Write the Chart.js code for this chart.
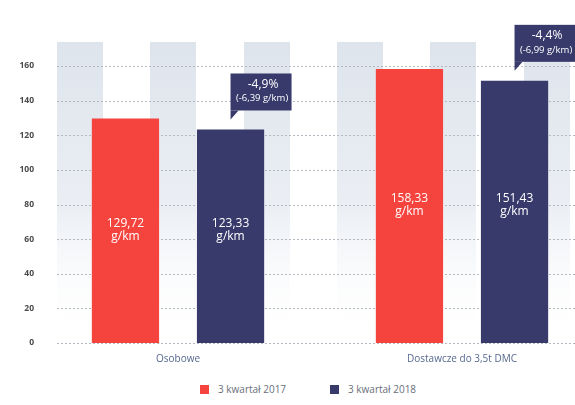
<!DOCTYPE html>
<html lang="pl">
<head>
<meta charset="UTF-8">
<title>Emisja CO2</title>
<script src="https://cdn.jsdelivr.net/npm/chart.js"></script>
<style>
    html, body {
        margin: 0;
        padding: 0;
        background: #fff;
        overflow: hidden;
        font-family: 'Open Sans', sans-serif;
    }
    .wrap {
        position: relative;
        width: 606px;
        height: 375px;
    }
    /* legend under the chart */
    .legend {
        position: absolute;
        top: 382px;
        left: 0;
        width: 575px;
        height: 14px;
    }
    .legend .item {
        position: absolute;
        top: 0;
        font-size: 10px;
        line-height: 14px;
        color: #6a6f7c;
        white-space: nowrap;
    }
    .legend .swatch {
        display: inline-block;
        width: 9px;
        height: 9px;
        margin-right: 9px;
        vertical-align: -1px;
    }
</style>
</head>
<body>
<div class="wrap">
    <canvas id="chart"></canvas>
</div>
<div class="legend" id="legend"></div>
<script>
// categories and series
const categories = ['Osobowe', 'Dostawcze do 3,5t DMC'];
const seriesNames = ['3 kwartał 2017', '3 kwartał 2018'];
const values2017 = [129.72, 158.33];
const values2018 = [123.33, 151.43];
const yTicks = [0, 20, 40, 60, 80, 100, 120, 140, 160];

// change callouts above the 2018 bars
const changePct = ['-4,9%', '-4,4%'];
const changeAbs = ['(-6,39 g/km)', '(-6,99 g/km)'];

const RED = '#f5433e';
const NAVY = '#373a6b';
const FONT = "'Open Sans', sans-serif";

const fmt = v => v.toFixed(2).replace('.', ',');

// light vertical bands + dotted grid behind the bars
const backdrop = {
    id: 'backdrop',
    beforeDatasetsDraw(chart) {
        const { ctx, chartArea, scales } = chart;
        ctx.save();
        const top = 42;
        const grad = ctx.createLinearGradient(0, top, 0, chartArea.bottom);
        grad.addColorStop(0, 'rgba(218,225,234,0.9)');
        grad.addColorStop(0.55, 'rgba(228,233,240,0.75)');
        grad.addColorStop(1, 'rgba(255,255,255,0)');
        ctx.fillStyle = grad;
        for (let x = 57; x < chart.width; x += 93.3) {
            ctx.fillRect(Math.round(x), top, 46, chartArea.bottom - top);
        }
        ctx.strokeStyle = '#b4b8c0';
        ctx.lineWidth = 1;
        ctx.setLineDash([2, 2]);
        yTicks.forEach(t => {
            const y = Math.round(scales.y.getPixelForValue(t)) + 0.5;
            ctx.beginPath();
            ctx.moveTo(57, y);
            ctx.lineTo(chart.width, y);
            ctx.stroke();
        });
        ctx.restore();
    }
};

// value text inside bars and change callouts
const barText = {
    id: 'barText',
    afterDatasetsDraw(chart) {
        const { ctx, scales } = chart;
        ctx.save();
        ctx.textAlign = 'center';
        ctx.textBaseline = 'middle';
        ctx.fillStyle = '#fff';
        ctx.font = '12px ' + FONT;
        chart.data.datasets.forEach((ds, di) => {
            chart.getDatasetMeta(di).data.forEach((bar, i) => {
                // both labels of a group sit at the middle of the taller bar
                const tall = Math.max(values2017[i], values2018[i]);
                const mid = scales.y.getPixelForValue(tall / 2);
                ctx.fillText(fmt(ds.data[i]), bar.x, mid - 7);
                ctx.fillText('g/km', bar.x, mid + 6);
            });
        });

        chart.getDatasetMeta(1).data.forEach((bar, i) => {
            const left = bar.x;
            const bottom = bar.y - 19;
            const w = 61, h = 37;
            ctx.fillStyle = NAVY;
            ctx.fillRect(left, bottom - h, w, h);
            ctx.beginPath();
            ctx.moveTo(left, bottom);
            ctx.lineTo(left + 8, bottom);
            ctx.lineTo(left, bottom + 9);
            ctx.closePath();
            ctx.fill();
            ctx.fillStyle = '#fff';
            ctx.font = '12px ' + FONT;
            ctx.fillText(changePct[i], left + w / 2 + 2, bottom - h + 11);
            ctx.font = '9.5px ' + FONT;
            ctx.fillText(changeAbs[i], left + w / 2 + 1, bottom - h + 25);
        });
        ctx.restore();
    }
};

const chart = new Chart(document.getElementById('chart'), {
    type: 'bar',
    data: {
        labels: categories,
        datasets: [
            { label: seriesNames[0], data: values2017, backgroundColor: RED },
            { label: seriesNames[1], data: values2018, backgroundColor: NAVY }
        ]
    },
    options: {
        responsive: true,
        maintainAspectRatio: false,
        animation: false,
        categoryPercentage: 0.74,
        barPercentage: 0.64,
        layout: { padding: { top: 66, right: 2, left: 0, bottom: 0 } },
        plugins: {
            tooltip: { enabled: false },
            legend: { display: false }
        },
        scales: {
            x: {
                grid: { display: false, drawTicks: false },
                border: { display: false },
                ticks: {
                    color: '#566890',
                    padding: 10,
                    font: { family: FONT, size: 10 }
                }
            },
            y: {
                min: 0,
                max: 160,
                afterFit(scale) { scale.width = 36; },
                afterBuildTicks(scale) { scale.ticks = yTicks.map(v => ({ value: v })); },
                grid: { display: false, drawTicks: false },
                border: { display: false },
                ticks: {
                    color: '#4a4a4a',
                    padding: 2,
                    font: { family: FONT, size: 8.5, weight: 'bold' }
                }
            }
        }
    },
    plugins: [backdrop, barText]
});

// legend built from the dataset names and colours
const legendLeft = [200, 330];
const legendEl = document.getElementById('legend');
chart.data.datasets.forEach((ds, i) => {
    const item = document.createElement('span');
    item.className = 'item';
    item.style.left = legendLeft[i] + 'px';
    const sw = document.createElement('span');
    sw.className = 'swatch';
    sw.style.background = ds.backgroundColor;
    item.appendChild(sw);
    item.appendChild(document.createTextNode(ds.label));
    legendEl.appendChild(item);
});
</script>
</body>
</html>
